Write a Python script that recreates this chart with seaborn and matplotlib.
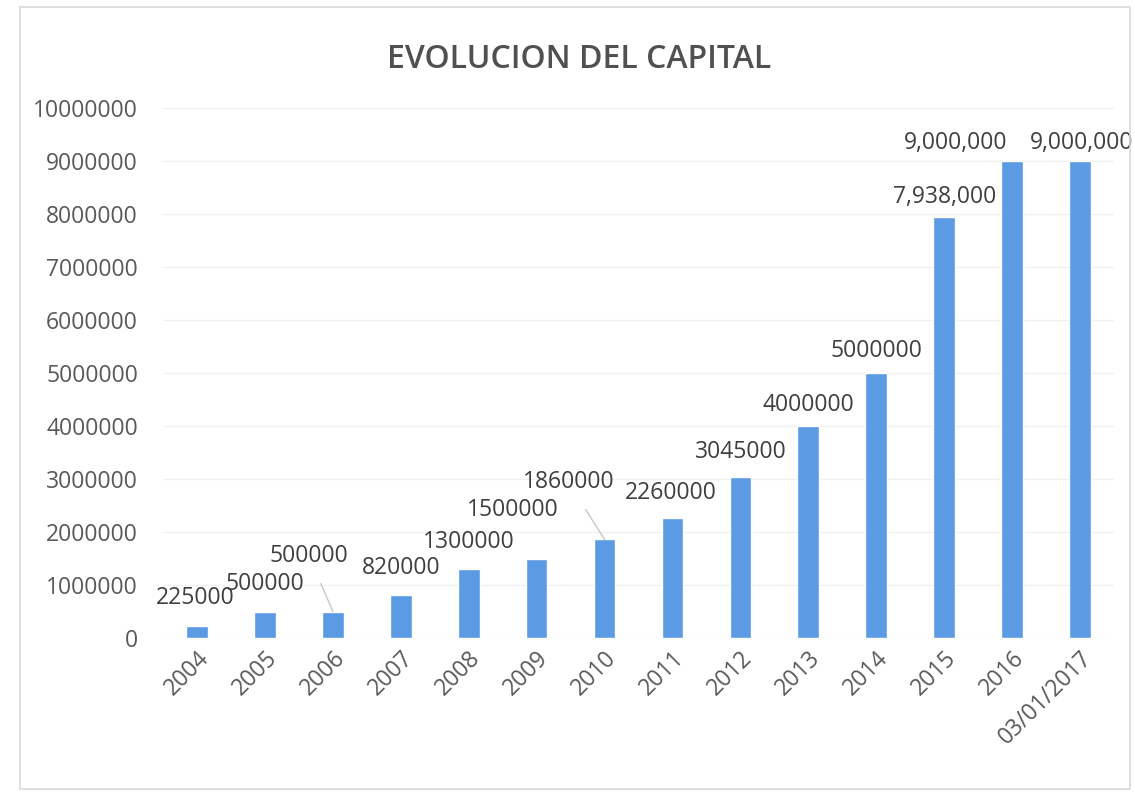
import matplotlib
matplotlib.use("Agg")
import matplotlib.pyplot as plt
import matplotlib.ticker as mticker
from matplotlib.patches import Rectangle
import seaborn as sns
import pandas as pd

categories = ["2004", "2005", "2006", "2007", "2008", "2009", "2010", "2011",
              "2012", "2013", "2014", "2015", "2016", "03/01/2017"]
capital = [225000, 500000, 500000, 820000, 1300000, 1500000, 1860000, 2260000,
           3045000, 4000000, 5000000, 7938000, 9000000, 9000000]
value_labels = ["225000", "500000", "500000", "820000", "1300000", "1500000", "1860000",
                "2260000", "3045000", "4000000", "5000000", "7,938,000", "9,000,000", "9,000,000"]
y_ticks = [0, 1000000, 2000000, 3000000, 4000000, 5000000, 6000000, 7000000,
           8000000, 9000000, 10000000]

# label offsets in pixels (dx, dy) relative to bar top centre, and leader-line flags
label_offsets = [(-2, 28), (0, 28), (-24, 56), (0, 27), (0, 27), (-24, 48), (-36, 57),
                 (-2, 25), (0, 25), (0, 21), (0, 22), (0, 20), (-56, 18), (2, 18)]
leader = [False, False, True, False, False, False, True,
          False, False, False, False, False, False, False]

sns.set_theme(style="white")
plt.rcParams['font.family'] = ['Open Sans', 'DejaVu Sans']

df = pd.DataFrame({"cat": categories, "val": capital})

fig = plt.figure(figsize=(11.35, 7.95), dpi=100)
ax = fig.add_axes([163/1135, 1 - 638/795, (1114 - 163)/1135, (638 - 108)/795])

sns.barplot(data=df, x="cat", y="val", color="#5b9be3", saturation=1, width=0.32, ax=ax)

ax.set_ylim(0, 10000000)
ax.set_xlim(-0.5, len(categories) - 0.5)
ax.set_yticks(y_ticks)
ax.yaxis.set_major_formatter(mticker.FuncFormatter(lambda v, p: f"{int(v)}"))
ax.grid(axis="y", color="#f0f0f0", linewidth=1)
ax.set_axisbelow(True)
for s in ax.spines.values():
    s.set_visible(False)
ax.set_xlabel("")
ax.set_ylabel("")
ax.tick_params(axis="y", length=0, pad=18, labelsize=16.5, labelcolor="#595959")
ax.tick_params(axis="x", length=0, pad=6, labelsize=16.5, labelcolor="#595959")
for lbl in ax.get_xticklabels():
    lbl.set_rotation(45)
    lbl.set_ha("right")
    lbl.set_rotation_mode("anchor")

for i, (v, txt) in enumerate(zip(capital, value_labels)):
    dx, dy = label_offsets[i]
    ap = dict(arrowstyle="-", color="#c8c8c8", lw=1, shrinkA=10, shrinkB=0) if leader[i] else None
    ax.annotate(txt, xy=(i, v), xytext=(dx, dy), textcoords="offset pixels",
                ha="center", va="center", fontsize=16.5, color="#3f3f3f",
                arrowprops=ap, annotation_clip=False)

fig.text(579/1135, 1 - 60/795, "EVOLUCION DEL CAPITAL", ha="center", va="center",
         fontsize=23, fontweight="semibold", color="#505050")

fig.patches.append(Rectangle((20/1135, 6/795), (1130 - 20)/1135, (788 - 6)/795,
                             transform=fig.transFigure, fill=False,
                             edgecolor="#d9d9d9", linewidth=1.2))

fig.savefig("out.png", dpi=100, facecolor="white")
